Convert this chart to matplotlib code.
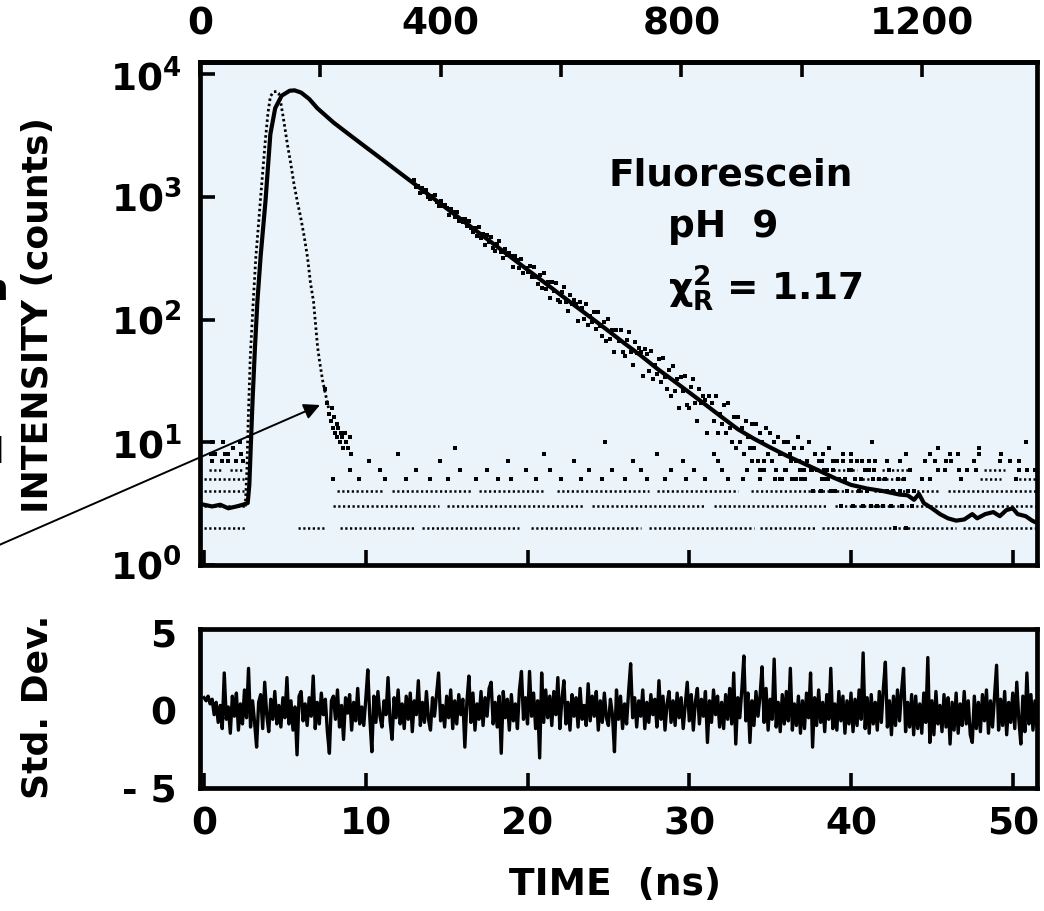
import matplotlib
matplotlib.use("Agg")
import matplotlib.pyplot as plt
import numpy as np

plt.rcParams['font.family'] = ['DejaVu Sans']
plt.rcParams['font.weight'] = 'bold'
plt.rcParams['mathtext.fontset'] = 'dejavusans'

BG = '#ebf4fa'
NS_PER_CH = 0.0372     # channel width of the top axis
CH_ZERO_NS = -0.25     # time of channel 0

# --- fitted decay (solid line), time in ns / counts ---
fit_t = [0.0, 0.5, 1.0, 1.5, 2.0, 2.4, 2.7, 2.8, 2.88, 3.0,
         3.15, 3.3, 3.5, 3.8, 4.1, 4.4, 4.8, 5.3, 5.6, 6.0,
         6.5, 7.0, 8.0, 9.0, 10.0, 11.0, 12.0, 13.0, 14.0, 15.0,
         16.0, 17.0, 18.0, 19.0, 20.0, 21.0, 22.0, 23.0, 24.0, 25.0,
         26.0, 27.0, 28.0, 29.0, 30.0, 31.0, 32.0, 33.0, 34.0, 35.0,
         36.0, 37.0, 38.0, 39.0, 40.0, 41.0, 42.0, 43.0, 43.5, 43.9,
         44.2, 44.5, 45.0, 45.5, 46.0, 46.5, 47.0, 47.5, 47.8, 48.3,
         48.8, 49.2, 49.6, 50.0, 50.3, 50.8, 51.2, 51.5]
fit_counts = [3.1, 3.0, 3.1, 2.9, 3.0, 3.1, 3.2, 4.5, 8.6, 22,
              60, 142, 330, 930, 3250, 5300, 6700, 7350, 7400, 7100,
              6300, 5300, 4050, 3210, 2550, 2030, 1610, 1280, 1016, 807,
              641, 509, 405, 321, 255, 203, 161, 128, 102, 81,
              64, 51, 40, 32, 25.5, 20.3, 16.1, 12.8, 10.7, 9.1,
              7.8, 6.8, 5.9, 5.1, 4.5, 4.2, 4.0, 3.75, 3.7, 3.4,
              3.8, 3.2, 2.9, 2.6, 2.4, 2.3, 2.35, 2.6, 2.4, 2.6,
              2.7, 2.5, 2.8, 2.9, 2.6, 2.5, 2.3, 2.2]

# --- lamp / instrument response peak (dotted curve) ---
irf_t = [2.55, 2.65, 2.73, 2.86, 3.04, 3.2, 3.35, 3.5, 3.66, 3.8,
         3.95, 4.1, 4.3, 4.5, 4.62, 4.75, 4.88, 5.0, 5.15, 5.34,
         5.55, 5.78, 5.96, 6.2, 6.4, 6.58, 6.77, 6.9, 7.02, 7.15,
         7.33, 7.5, 7.7]
irf_counts = [3, 6, 15, 50, 140, 320, 560, 1000, 1800, 3000,
              4800, 6600, 7200, 7250, 7000, 5800, 4600, 3650, 2700, 1950,
              1300, 900, 700, 470, 320, 200, 140, 90, 60, 45,
              32, 25, 19]

# scattered lamp points where the peak runs into the floor
irf_tail_t = [7.45, 7.6, 7.75, 7.85, 7.9, 8.0, 8.05, 8.1, 8.2, 8.25,
              8.3, 8.4, 8.45, 8.5, 8.6, 8.7, 8.8, 8.9, 9.0, 9.1]
irf_tail_counts = [27, 21, 17, 15, 19, 13, 16, 12, 14, 11,
                   13, 10, 12, 11, 9, 12, 10, 9, 11, 8]

# --- measured decay points, one every 0.125 ns from 13 ns ---
decay_start = 13.0
decay_step = 0.125
decay_counts = [
    1370, 1200, 1233, 1084, 1189, 1092, 1145, 995,
    959, 1015, 1040, 912, 842, 923, 849, 859,
    818, 718, 805, 761, 689, 753, 636, 665,
    623, 662, 575, 641, 563, 520, 562, 484,
    570, 465, 498, 405, 487, 430, 474, 381,
    366, 412, 437, 358, 318, 379, 336, 351,
    329, 267, 332, 309, 265, 315, 241, 266,
    243, 275, 221, 271, 222, 197, 230, 181,
    240, 179, 202, 149, 201, 170, 199, 145,
    138, 168, 185, 140, 118, 158, 134, 144,
    133, 97, 138, 125, 102, 133, 91, 107,
    95, 115, 84, 115, 88, 74, 95, 67,
    101, 69, 82, 54, 83, 67, 83, 54,
    51, 68, 79, 55, 43, 66, 53, 59,
    54, 35, 58, 52, 38, 56, 33, 43,
    36, 48, 31, 49, 34, 27, 39, 24,
    42, 26, 33, 19, 34, 26, 35, 20,
    19, 28, 33, 21, 15, 27, 21, 24,
    22, 12, 24, 21, 15, 24, 12, 17,
    14, 20, 12, 21, 13, 10, 16, 9,
    16, 10, 13, 8, 15, 11, 9, 14,
    9, 14, 7, 12, 10, 6, 13, 8,
    12, 7, 10, 6, 11, 8, 5, 10,
    6, 10, 8, 5, 9, 7, 11, 6,
    9, 5, 7, 10, 6, 4, 8, 6,
    7, 4, 8, 5, 6, 9, 4, 6,
    4, 7, 5, 3, 8, 5, 4, 6,
    6, 3, 5, 7, 4, 5, 3, 6,
    4, 6, 3, 5, 7, 3, 5, 4,
    3, 5, 4, 6, 3, 4, 2, 5,
    4, 3, 5, 2, 4, 6, 3, 4,
]

# --- background floor: runs of dots at 2..6 counts (ns spans) ---
row2_spans = [(0.0, 2.6), (5.8, 7.4), (8.4, 13.0), (13.5, 19.5), (20.2, 27.0),
              (27.5, 34.0), (34.4, 37.8), (38.2, 46.5), (46.9, 51.5)]
row3_spans = [(0.0, 2.6), (8.0, 14.5), (15.0, 23.5), (24.0, 31.0),
              (31.5, 38.5), (39.0, 51.5)]
row4_spans = [(0.0, 2.5), (8.2, 11.0), (11.6, 16.5), (17.0, 21.0), (21.8, 27.5),
              (28.0, 33.0), (33.8, 41.0), (41.4, 45.5), (46.0, 51.5)]
row5_spans = [(0.0, 2.5), (40.7, 43.2), (48.0, 49.3), (50.1, 51.5)]
row6_spans = [(0.3, 1.2), (1.6, 2.4), (38.9, 40.4), (41.9, 43.7), (48.2, 49.5)]

# isolated floor dots at 5..8 counts (ns)
lvl5_t = [8.0, 9.6, 11.2, 12.5, 14.0, 15.1, 16.8,
          18.2, 19.0, 20.5, 22.1, 23.3, 24.6, 26.0, 27.4, 28.5, 29.8, 31.0,
          32.4, 33.3, 34.4, 35.3, 35.6, 36.6, 36.9, 38.2, 38.6,
          44.4, 44.9, 46.8, 50.2]
lvl6_t = [9.0, 10.9, 13.1, 15.8, 17.5, 19.9, 21.4, 23.8,
          25.2, 27.0, 28.9, 30.3, 32.0, 33.6, 34.4, 35.9, 37.1, 37.6, 38.3,
          40.9, 41.4, 45.4, 45.8, 46.7, 47.2, 47.7, 50.4, 50.9, 51.4]
lvl7_t = [0.5, 1.1, 1.5, 2.0, 2.4, 10.2, 14.6, 18.8, 22.9, 26.5, 29.6, 31.8, 33.9,
          34.6, 35.1, 36.3, 36.8, 38.2, 38.9, 39.5, 40.0, 40.7, 41.1, 42.2,
          43.0, 44.6, 45.2, 45.9, 46.2, 47.6, 49.2, 49.8, 50.4]
lvl8_t = [0.4, 0.7, 1.3, 1.5, 2.3, 12.0, 21.0, 28.0, 31.5, 40.0, 43.4, 44.9,
          46.1, 46.6, 47.9, 49.3]
hi_t = [0.5, 1.2, 1.8, 2.2, 15.5, 24.8, 41.3, 45.4, 47.9, 50.8]
hi_counts = [10, 10, 9, 10, 9, 10, 10, 9, 9, 10]

# --- weighted residuals, one every 0.125 ns from 0 ns ---
resid_step = 0.125
resid = [
    0.8, 0.6, 0.9, 0.4, 0.7, -0.3, 0.5, -0.8,
    0.3, -1.2, 2.4, -0.6, 0.2, -1.5, 0.9, -0.4,
    1.1, -1.3, 0.4, -0.9, 1.3, -0.5, 2.7, -1.1,
    0.6, -0.8, -2.4, 0.5, 1.0, -1.2, 1.8, -0.3,
    -1.4, 0.7, -0.6, 1.2, -0.9, 0.3, -1.1, 0.8,
    -0.5, 2.1, -0.9, 0.6, -1.3, 0.2, -2.9, 0.9,
    1.2, -0.7, 0.4, -1.0, 0.8, -0.4, 2.2, -1.2,
    0.5, -0.9, 1.1, -0.3, 0.7, -1.4, -2.8, 0.6,
    0.9, -0.6, 1.3, -1.1, 0.3, -1.9, 0.8, -0.2,
    1.0, -1.3, 0.5, -0.7, 1.4, -0.9, 0.2, -1.0,
    0.7, 2.6, -0.5, -2.7, 0.9, -0.8, 1.2, -0.4,
    -1.1, 0.6, -0.3, 2.1, -0.7, -1.9, 0.8, -0.5,
    1.3, -0.9, 0.4, -1.2, 0.9, -0.6, 1.1, -1.4,
    0.6, -0.3, 1.9, -1.0, 0.5, -0.8, 1.2, -0.6,
    -1.3, 0.8, -0.4, 1.0, 2.4, -0.7, 0.3, -1.1,
    0.9, -0.5, 1.3, -1.2, 0.6, -0.9, 1.0, -0.3,
    0.7, -2.4, 0.5, 2.2, -0.8, 1.1, -1.3, 0.4,
    -0.6, 1.2, -1.0, 0.8, -0.4, 1.4, 1.8, -0.9,
    0.5, -1.1, 0.9, -2.8, 1.2, -0.5, 0.7, -1.3,
    1.0, -0.7, 0.4, -1.2, 1.3, 2.5, -0.6, 0.8,
    -0.9, 2.5, -0.4, 1.1, -1.2, 0.6, -3.1, 2.4,
    -0.8, 1.3, -0.5, 0.9, -1.0, 1.2, -0.3, 2.1,
    -1.2, 0.7, 1.9, -0.9, 0.5, -1.3, 1.0, -0.4,
    0.8, -1.1, 1.4, -0.6, 0.3, -1.0, 1.7, -0.7,
    0.9, -0.4, 1.2, -1.3, 0.6, -0.8, 1.1, -0.5,
    -1.0, 0.7, -0.3, -2.7, 1.3, -0.6, 0.9, -1.2,
    0.4, -0.9, 1.2, 3.0, -0.5, 0.8, -1.1, 0.6,
    -0.4, 1.3, -1.2, 0.5, -0.8, 1.0, -0.3, 0.7,
    -1.1, 1.9, -0.6, 0.9, -1.3, 0.4, 1.2, -0.8,
    0.6, -1.0, 1.1, -0.5, 0.8, -1.2, 0.3, 1.8,
    -0.7, 1.0, -1.3, 0.5, 1.4, -0.9, 0.7, -0.4,
    1.2, -2.1, 0.6, -0.8, 1.3, -0.3, 0.9, -1.1,
    0.5, -1.2, 1.0, -0.6, 1.4, -0.9, 2.4, -2.2,
    0.8, -0.5, 1.3, 3.5, -0.7, 1.1, -2.1, 0.6,
    -1.0, 1.2, -0.4, 0.9, 2.8, -0.8, 1.4, -1.3,
    0.7, -0.6, 3.3, -1.1, 0.5, -1.4, 1.0, -0.9,
    1.2, -0.7, 2.7, -1.3, 0.4, -1.0, 0.9, -1.5,
    0.6, -1.2, 1.1, -0.5, 2.4, -2.4, 0.8, -1.0,
    1.3, -0.8, 0.5, -1.4, 1.0, -0.6, 2.7, -1.2,
    0.4, -1.3, 1.2, -0.7, 0.9, -1.5, 0.6, -0.9,
    1.1, -1.4, 0.7, -1.0, 1.3, -0.6, 3.7, -1.2,
    0.8, -1.5, 1.0, -0.9, 0.5, -1.3, 1.2, -0.8,
    1.4, 3.1, -1.1, 0.6, -1.6, 0.9, -1.0, 1.3,
    -0.7, 1.2, 2.7, -1.4, 0.5, -1.1, 1.0, -1.6,
    0.9, -1.2, 0.4, -1.5, 1.1, -0.8, 3.4, -2.1,
    0.6, -1.6, 1.2, -0.9, 0.3, -1.4, 1.0, -1.1,
    0.8, -2.2, 0.5, -1.3, 1.1, -1.5, 0.4, -1.0,
    1.2, -0.9, 0.6, -1.6, -2.1, 0.9, -1.2, 0.5,
    -1.4, 1.0, -0.7, 1.3, -1.5, 0.6, -1.1, 0.9,
    2.9, -1.3, 0.7, -1.0, 1.2, -1.6, 0.5, -0.8,
    1.1, -1.2, 1.8, -0.6, -2.2, 0.9, -1.4, 2.4,
    -0.9, 1.0, -1.3, 0.6, -1.1, 0.8,
]

top_ticks = [0, 400, 800, 1200]
top_minor = [200, 600, 1000]
time_ticks = [0, 10, 20, 30, 40, 50]
decades = [1, 10, 100, 1000, 10000]
decade_labels = [r'$\mathbf{10^{%d}}$' % k for k in range(5)]
resid_ticks = [-5, 0, 5]
resid_labels = ['- 5', '0', '5']

W, H = 1044, 911
SPINE = 3.4
TICK = dict(direction='in', length=11, width=2.6, labelsize=27)
DOTS = (0, (0.9, 1.0))
DOT_MS = 2.3


def px_box(left, top, right, bottom):
    return [left / W, 1 - bottom / H, (right - left) / W, (bottom - top) / H]


fig = plt.figure(figsize=(W / 100, H / 100), dpi=100)
ax = fig.add_axes(px_box(200, 62, 1037, 565))
axr = fig.add_axes(px_box(200, 629, 1037, 788), sharex=ax)

for a in (ax, axr):
    a.set_facecolor(BG)
    for s in a.spines.values():
        s.set_linewidth(SPINE)

# floor rows
for lvl, spans in ((2, row2_spans), (3, row3_spans), (4, row4_spans),
                   (5, row5_spans), (6, row6_spans)):
    for t0, t1 in spans:
        ax.plot([t0, t1], [lvl, lvl], color='k', lw=1.8, ls=DOTS,
                dash_capstyle='butt', zorder=2)
for lvl, ts in ((5, lvl5_t), (6, lvl6_t), (7, lvl7_t), (8, lvl8_t)):
    ax.plot(ts, [lvl] * len(ts), 's', ms=DOT_MS, mew=0, color='k', zorder=2)
ax.plot(hi_t, hi_counts, 's', ms=DOT_MS, mew=0, color='k', zorder=2)
ax.plot(irf_tail_t, irf_tail_counts, 's', ms=DOT_MS, mew=0, color='k', zorder=2)

decay_t = decay_start + decay_step * np.arange(len(decay_counts))
ax.plot(decay_t, decay_counts, 's', ms=DOT_MS, mew=0, color='k', zorder=3)

ax.plot(irf_t, irf_counts, color='k', lw=2.0, ls=DOTS, dash_capstyle='butt', zorder=3)
ax.plot(fit_t, fit_counts, color='k', lw=3.0, zorder=4)

ax.set_yscale('log')
ax.set_ylim(1, 12600)
ax.set_xlim(-0.25, 51.5)
ax.set_yticks(decades)
ax.set_yticklabels(decade_labels)
ax.yaxis.set_minor_locator(matplotlib.ticker.NullLocator())
ax.set_xticks(time_ticks)
ax.tick_params(axis='both', **TICK)
ax.tick_params(axis='y', pad=13, right=False)
ax.tick_params(axis='x', labelbottom=False)

sec = ax.secondary_xaxis('top', functions=(lambda t: (t - CH_ZERO_NS) / NS_PER_CH,
                                           lambda c: c * NS_PER_CH + CH_ZERO_NS))
sec.set_xticks(top_ticks)
sec.set_xticks(top_minor, minor=True)
sec.tick_params(which='both', pad=14, **TICK)
for s in sec.spines.values():
    s.set_linewidth(SPINE)

ax.text(0.634, 0.755, 'Fluorescein', transform=ax.transAxes, ha='center',
        va='baseline', fontsize=27, fontweight='bold')
ax.text(0.559, 0.652, 'pH  9', transform=ax.transAxes, ha='left',
        va='baseline', fontsize=27, fontweight='bold')
ax.text(0.559, 0.527, r'$\mathbf{\chi^{2}_{R}}$ = 1.17', transform=ax.transAxes,
        ha='left', va='baseline', fontsize=27, fontweight='bold')

# residuals
resid_t = resid_step * np.arange(len(resid))
axr.plot(resid_t, resid, color='k', lw=2.4)
axr.set_ylim(-5.05, 5.25)
axr.set_yticks(resid_ticks)
axr.set_yticklabels(resid_labels)
axr.set_xticks(time_ticks)
axr.tick_params(axis='both', **TICK)
axr.tick_params(axis='y', left=False, pad=17)
axr.tick_params(axis='x', pad=13)

fig.text(38 / W, 1 - 315 / H, 'INTENSITY (counts)', rotation=90, ha='center',
         va='center', fontsize=26, fontweight='bold')
fig.text(38 / W, 1 - 707 / H, 'Std. Dev.', rotation=90, ha='center',
         va='center', fontsize=26, fontweight='bold')
fig.text(615 / W, 1 - 885 / H, 'TIME  (ns)', ha='center', va='center',
         fontsize=27, fontweight='bold')

# cut-off labels and pointer at the left edge
fig.text(9 / W, 1 - 300 / H, 'n', ha='right', va='baseline', fontsize=26,
         fontweight='bold')
fig.text(4 / W, 1 - 463 / H, 'l', ha='right', va='baseline', fontsize=26,
         fontweight='bold')
ax.annotate('', xy=(320, H - 405), xycoords='figure pixels',
            xytext=(-10, H - 549), textcoords='figure pixels',
            arrowprops=dict(arrowstyle='-|>', lw=1.4, color='k',
                            mutation_scale=24, shrinkA=0, shrinkB=0),
            annotation_clip=False)

fig.savefig('out.png', dpi=100)
